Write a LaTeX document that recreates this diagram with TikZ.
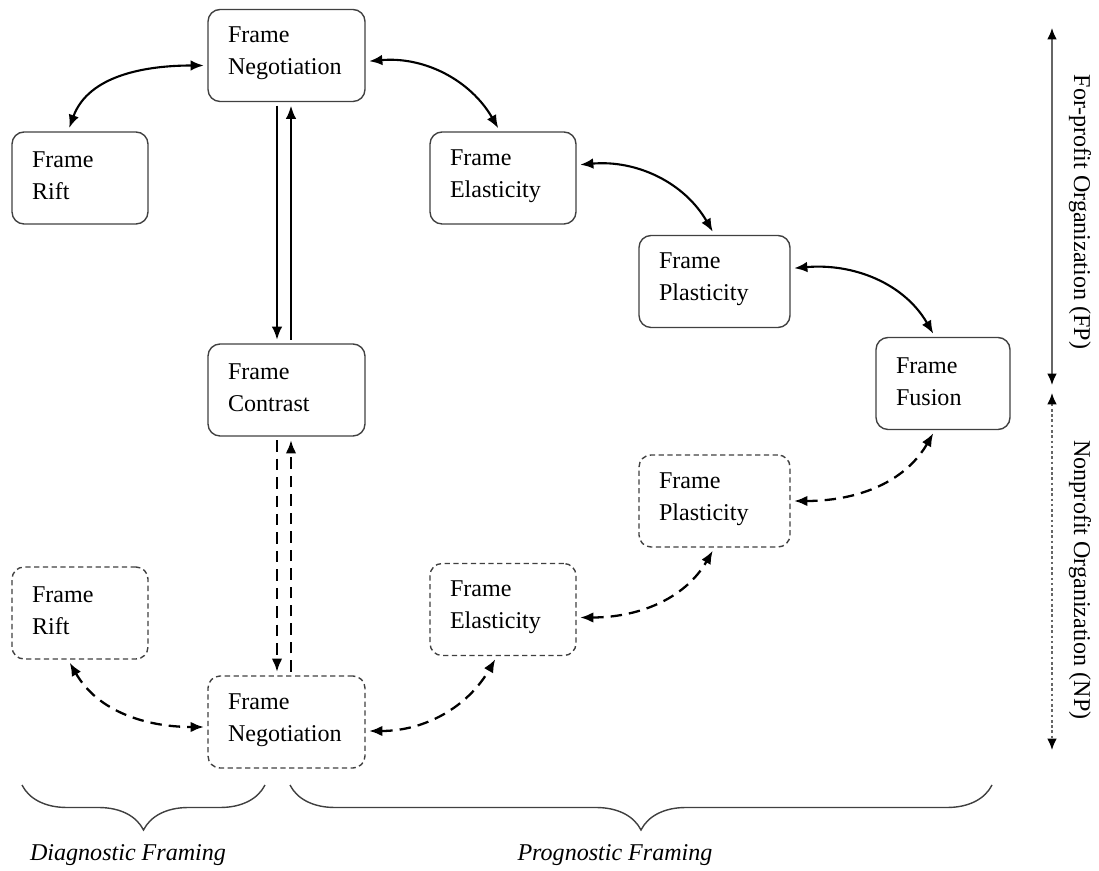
\documentclass[tikz,border=0pt]{standalone}
\usepackage{fontspec}
\setmainfont{Liberation Serif}
\usepackage{tikz}
\usetikzlibrary{arrows.meta}
\usetikzlibrary{decorations.pathreplacing}

\begin{document}
\begin{tikzpicture}[x=0.02cm, y=0.02cm, >={Latex[length=7.5pt, width=6pt]},
    framebox/.style={rectangle, draw=black!75, line width=0.8pt, rounded corners=0.24cm,
        minimum height=1.84cm, inner xsep=0.4cm, align=left, text width=#1,
        font=\fontsize{13.7}{18.2}\selectfont, execute at end node={\endgraf\vspace{0.08cm}}},
    npbox/.style={framebox=#1, dash pattern=on 3pt off 2pt},
    link/.style={line width=1.2pt, shorten <=2pt, shorten >=2pt},
    nplink/.style={link, line width=1.3pt, dash pattern=on 6.5pt off 4pt}]
    \useasboundingbox (0,0) rectangle (1099,-871);

            % For-profit nodes
            \node[framebox=2.34cm] (negFP) at (286.5,-55.5) {Frame\\Negotiation};
            \node[framebox=1.92cm] (riftFP) at (80,-178) {Frame\\Rift};
            \node[framebox=2.12cm] (elaFP) at (503,-178) {Frame\\Elasticity};
            \node[framebox=2.22cm] (plaFP) at (714.5,-281.5) {Frame\\Plasticity};
            \node[framebox=1.88cm] (fusion) at (943,-383.5) {Frame\\Fusion};
            \node[framebox=2.34cm] (contrast) at (286.5,-390) {Frame\\Contrast};

            % Nonprofit nodes
            \node[npbox=2.22cm] (plaNP) at (714.5,-501) {Frame\\Plasticity};
            \node[npbox=2.12cm] (elaNP) at (503,-609.5) {Frame\\Elasticity};
            \node[npbox=1.92cm] (riftNP) at (80,-613) {Frame\\Rift};
            \node[npbox=2.34cm] (negNP) at (286.5,-722) {Frame\\Negotiation};

            % Solid links
            \draw[link, <->] ([yshift=-0.2cm]negFP.west) to[out=180, in=70] ([xshift=-0.24cm]riftFP.north);
            \draw[link, <->] ([yshift=-0.12cm]negFP.east) to[out=5, in=120] ([xshift=-0.06cm]elaFP.north);
            \draw[link, <->] ([yshift=0.26cm]elaFP.east) to[out=5, in=120] (plaFP.north);
            \draw[link, <->] ([yshift=0.26cm]plaFP.east) to[out=5, in=120] ([xshift=-0.16cm]fusion.north);
            \draw[link, ->] ([xshift=-0.19cm]negFP.south) -- ([xshift=-0.19cm]contrast.north);
            \draw[link, ->] ([xshift=0.09cm]contrast.north) -- ([xshift=0.09cm]negFP.south);

            % Dashed links
            \draw[nplink, ->] ([xshift=-0.19cm]contrast.south) -- ([xshift=-0.19cm]negNP.north);
            \draw[nplink, ->] ([xshift=0.09cm]negNP.north) -- ([xshift=0.09cm]contrast.south);
            \draw[nplink, <->] (plaNP.east) to[out=0, in=-120] ([xshift=-0.16cm]fusion.south);
            \draw[nplink, <->] ([yshift=-0.16cm]elaNP.east) to[out=0, in=-120] (plaNP.south);
            \draw[nplink, <->] ([yshift=-0.18cm]negNP.east) to[out=0, in=-120] ([xshift=-0.12cm]elaNP.south);
            \draw[nplink, <->] ([xshift=-0.24cm]riftNP.south) to[out=-60, in=180] ([yshift=-0.1cm]negNP.west);

            % Side arrows
            \coordinate (fpTop) at (1052,-28);
            \coordinate (fpBot) at (1052,-385);
            \coordinate (npTop) at (1052,-393);
            \coordinate (npBot) at (1052,-750);
            \draw[{Latex[black, length=6.5pt, width=5.5pt]}-{Latex[black, length=6.5pt, width=5.5pt]}, black!60, line width=0.9pt] (fpTop) -- (fpBot);
            \draw[{Latex[black, length=6.5pt, width=5.5pt]}-{Latex[black, length=6.5pt, width=5.5pt]}, black!60, line width=0.9pt, dash pattern=on 1.5pt off 1.5pt] (npTop) -- (npBot);
            \node[rotate=-90, font=\fontsize{13.7}{16}\selectfont] (fpLabel) at (1080,-212) {For-profit Organization (FP)};
            \node[rotate=-90, font=\fontsize{13.7}{16}\selectfont] (npLabel) at (1080,-580) {Nonprofit Organization (NP)};

            % Braces
            \draw[black!75, line width=0.8pt, decorate, decoration={brace, mirror, amplitude=0.9cm}] (22,-785) -- (265,-785);
            \draw[black!75, line width=0.8pt, decorate, decoration={brace, mirror, amplitude=0.9cm}] (290,-785) -- (992,-785);
            \node[font=\fontsize{13.7}{16}\selectfont\itshape] (diag) at (128,-855) {Diagnostic Framing};
            \node[font=\fontsize{13.7}{16}\selectfont\itshape] (prog) at (615,-855) {Prognostic Framing};

        \end{tikzpicture}
\end{document}
